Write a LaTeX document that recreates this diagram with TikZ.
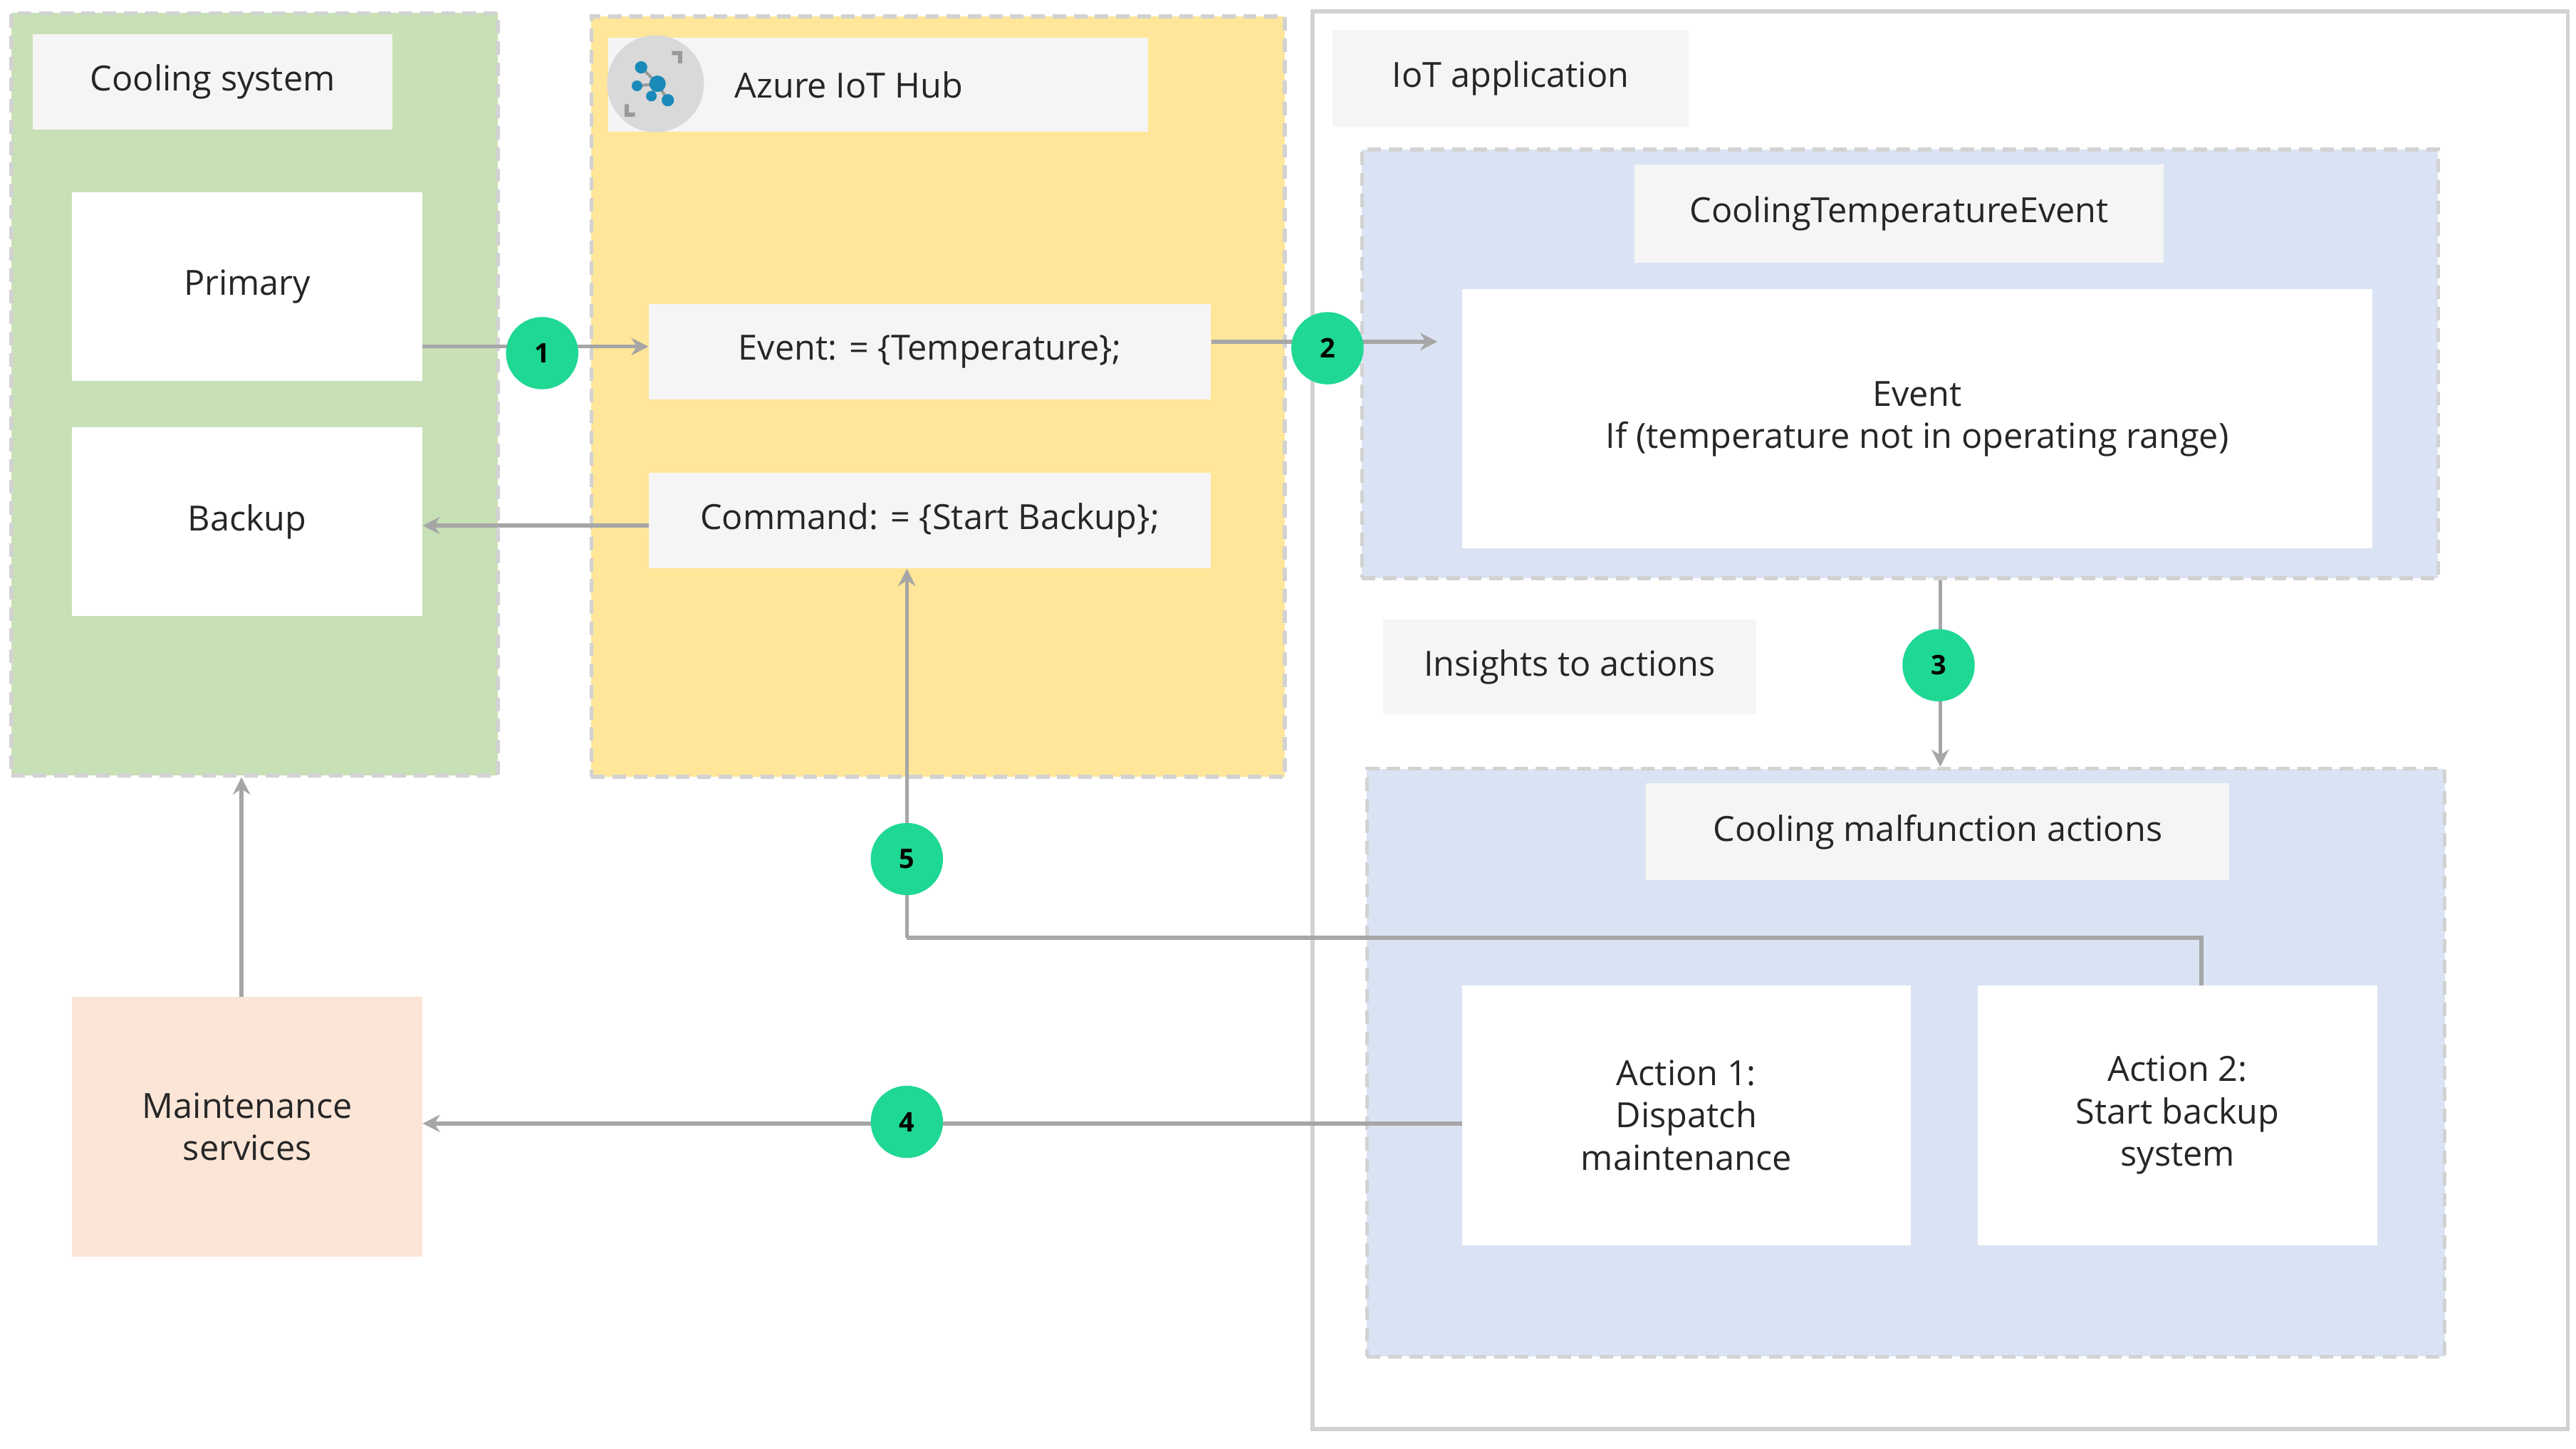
\documentclass[tikz,border=0pt]{standalone}
\usepackage{fontspec}
\setmainfont{Open Sans}
\usetikzlibrary{positioning,arrows.meta}
\definecolor{coolgreen}{HTML}{C8E0B5}
\definecolor{hubyellow}{HTML}{FFE699}
\definecolor{appblue}{HTML}{DAE3F3}
\definecolor{maintpeach}{HTML}{FBE5D6}
\definecolor{labelgray}{HTML}{F5F5F5}
\definecolor{linegray}{HTML}{A6A6A6}
\definecolor{stepgreen}{HTML}{1FD894}
\definecolor{txt}{HTML}{262626}
\definecolor{iconblue}{HTML}{1A8AB8}
\tikzset{
  sz/.style 2 args={minimum width=#1*0.03cm, minimum height=#2*0.03cm},
  region/.style={draw=gray!35, dash pattern=on 7pt off 4pt, line width=2pt, inner sep=0pt},
  box/.style={fill=white, text=txt, align=center, inner sep=0pt, font=\fontsize{18}{22}\selectfont},
  tag/.style={box, fill=labelgray},
  stepmark/.style={circle, fill=stepgreen, text=black, inner sep=0pt, minimum size=1.32cm, font=\fontsize{14}{16}\selectfont\bfseries},
  flow/.style={draw=linegray, line width=2pt, -{Stealth[length=9pt,width=9pt]}},
  link/.style={draw=linegray, line width=2pt},
}
\begin{document}
\begin{tikzpicture}[x=0.03cm, y=-0.03cm]
  \useasboundingbox (0,0) rectangle (1568,882);
  % cooling system
  \node[region, fill=coolgreen, sz={296}{464}] (cool) at (155,240) {};
  \node[tag, sz={219}{58}] (coolT) at (129.5,50) {Cooling system};
  \node[box, sz={213}{115}] (prim) at (150.5,174.5) {Primary};
  \node[box, sz={213}{115}] (back) at (150.5,317.5) {Backup};
  % iot hub
  \node[region, fill=hubyellow, sz={422}{463}] (hub) at (571,241.5) {};
  \node[tag, sz={329}{57}] (hubT) at (534.5,51.5) {};
  \node[box, fill=none, anchor=west] (hubL) at (447,51.5) {Azure IoT Hub};
  \node[circle, fill=gray!30, minimum size=59*0.03cm, inner sep=0pt] (ico) at (399,51) {};
  \begin{scope}[shift={(ico.center)}, scale=1.25]
    \fill[gray!80] (8,-16) -- (13,-16) -- (13,-10) -- (11,-10) -- (11,-14) -- (8,-14) -- cycle;
    \fill[gray!80] (-15,16) -- (-10,16) -- (-10,14) -- (-13,14) -- (-13,10) -- (-15,10) -- cycle;
    \draw[gray!80, line width=1.5pt] (-7,-8) -- (1,0) -- (-9,1) (1,0) -- (-2,6) (1,0) -- (6,8);
    \fill[iconblue] (1,0) circle (4) (-7,-8) circle (3) (-9,1) circle (2.6) (-2,6) circle (2.6) (6,8) circle (3);
  \end{scope}
  \node[tag, sz={342}{58}] (evt) at (566,214) {Event: = \{Temperature\};};
  \node[tag, sz={342}{58}] (cmd) at (566,317) {Command: = \{Start Backup\};};
  % iot application
  \node[draw=gray!35, line width=2pt, sz={764}{863}] (app) at (1181,438.5) {};
  \node[tag, sz={217}{59}] (appT) at (919.5,47.5) {IoT application};
  \node[region, fill=appblue, sz={655}{261}] (ctev) at (1156.5,221.5) {};
  \node[tag, sz={322}{60}] (ctevT) at (1156,130) {CoolingTemperatureEvent};
  \node[box, sz={554}{158}] (cond) at (1167,255) {Event\\If (temperature not in operating range)};
  \node[tag, sz={227}{58}] (ins) at (955.5,406) {Insights to actions};
  \node[region, fill=appblue, sz={656}{358}] (cma) at (1160,647) {};
  \node[tag, sz={355}{59}] (cmaT) at (1179.5,506.5) {Cooling malfunction actions};
  \node[box, sz={273}{158}] (act1) at (1026.5,679) {Action 1:\\Dispatch\\maintenance};
  \node[box, sz={243}{158}] (act2) at (1325.5,679) {Action 2:\\Start backup\\system};
  % maintenance
  \node[box, fill=maintpeach, sz={213}{158}] (maint) at (150.5,686) {Maintenance\\services};
  % connectors
  \coordinate (evtIn) at (875,208);
  \coordinate (bend1) at (1340,571);
  \coordinate (bend2) at (552,571);
  \draw[flow] (prim.east |- 0,211) -- (evt.west |- 0,211);
  \draw[flow] (evt.east |- 0,208) -- (evtIn);
  \draw[flow] (cmd.west |- 0,320) -- (back.east |- 0,320);
  \draw[flow] (ctev.south -| 1181,0) -- (cma.north -| 1181,0);
  \draw[flow] (act1.west |- 0,684) -- (maint.east |- 0,684);
  \draw[link] (act2.north -| bend1) -- (bend1) -- (bend2);
  \draw[flow] (bend2) -- (cmd.south -| bend2);
  \draw[flow] (maint.north -| 147,0) -- (cool.south -| 147,0);
  % step markers
  \node[stepmark] (s1) at (330,215) {1};
  \node[stepmark] (s2) at (808,212) {2};
  \node[stepmark] (s3) at (1180,405) {3};
  \node[stepmark] (s4) at (552,683) {4};
  \node[stepmark] (s5) at (552,523) {5};
\end{tikzpicture}
\end{document}
